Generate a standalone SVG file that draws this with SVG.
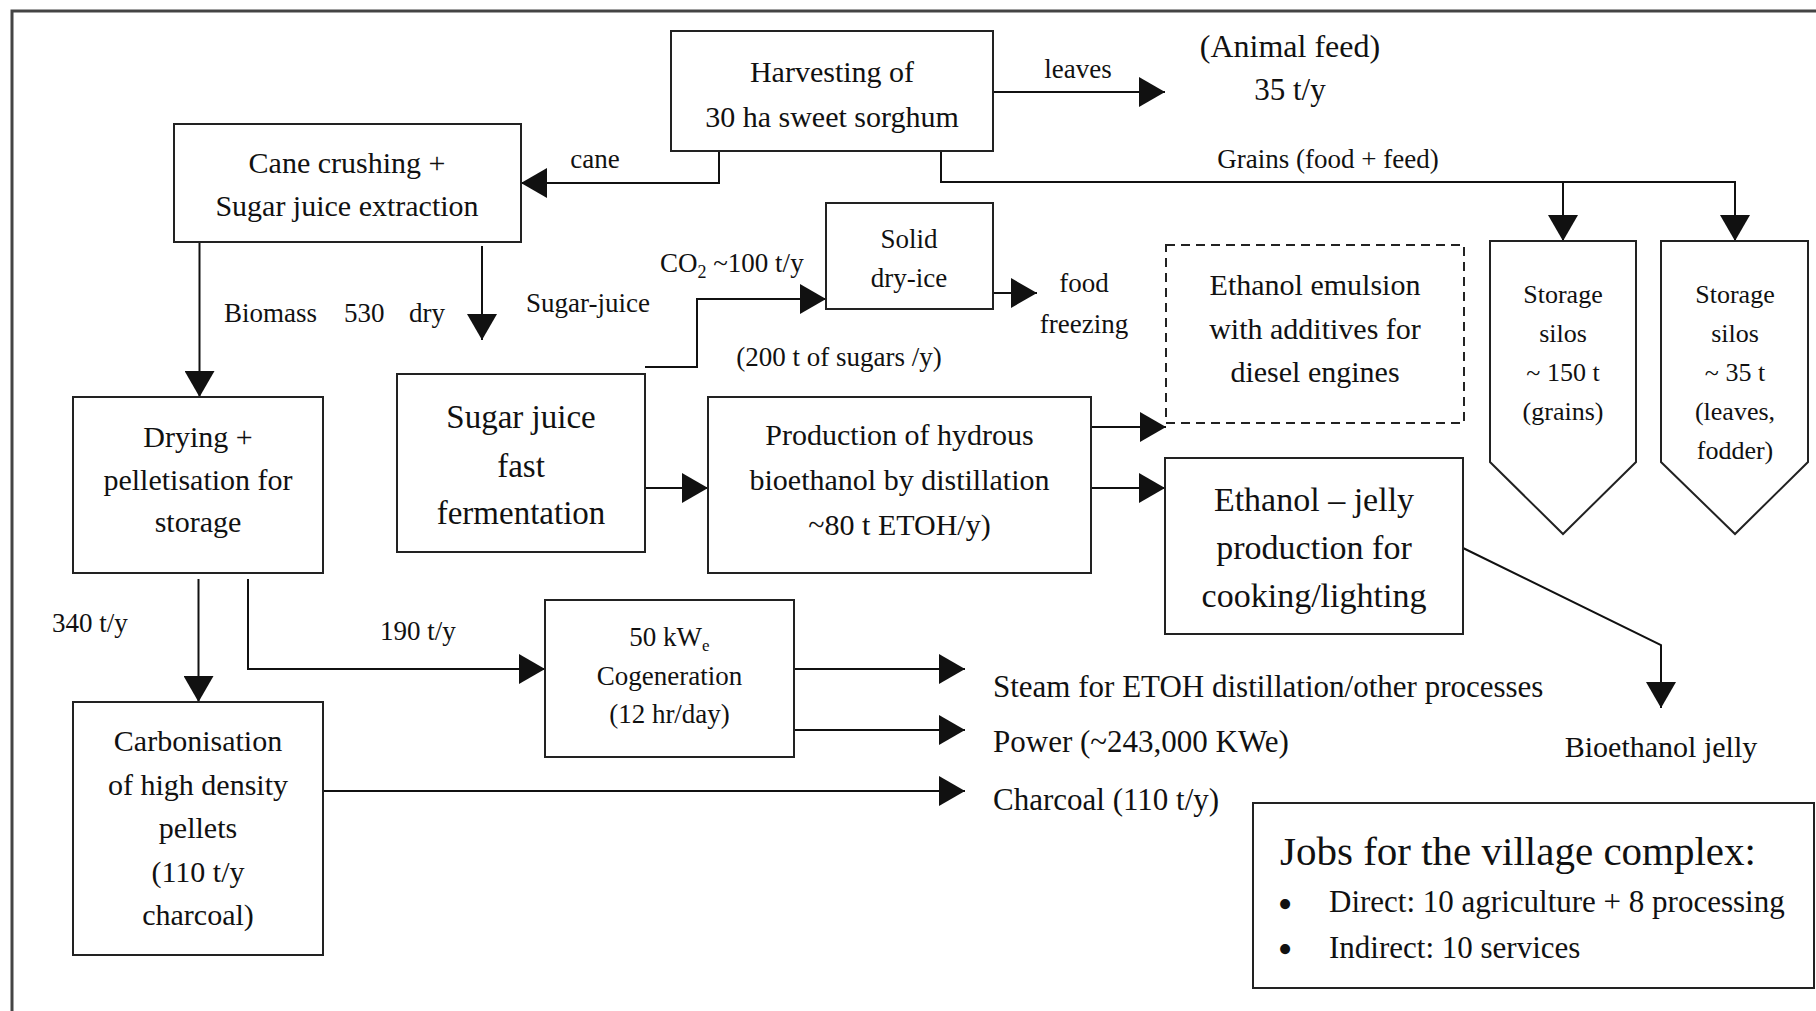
<svg xmlns="http://www.w3.org/2000/svg" width="1816" height="1011" viewBox="0 0 1816 1011">
<style>
text{font-family:"Liberation Serif","Times New Roman",serif;fill:#111;}
.c{text-anchor:middle;}
.box{fill:#fff;stroke:#222;stroke-width:2;}
.dash{fill:#fff;stroke:#222;stroke-width:2;stroke-dasharray:9,6;}
.ln{fill:none;stroke:#111;stroke-width:2;}
.f27{font-size:27px;}
.f30{font-size:30px;}
</style>
<defs>
<marker id="ah" markerUnits="userSpaceOnUse" markerWidth="26" markerHeight="30" refX="26" refY="15" orient="auto">
<path d="M0,0 L26,15 L0,30 Z" fill="#111"/>
</marker>
</defs>
<rect width="1816" height="1011" fill="#fff"/>
<path d="M12,1011 V11 H1816" fill="none" stroke="#444" stroke-width="3"/>

<g id="connectors" class="ln">
<path d="M993,92 H1165" marker-end="url(#ah)"/>
<path d="M719,151 V183 H521" marker-end="url(#ah)"/>
<path d="M941,151 V182 H1735 V241" marker-end="url(#ah)"/>
<path d="M1563,182 V241" marker-end="url(#ah)"/>
<path d="M199.5,242 V397" marker-end="url(#ah)"/>
<path d="M482,246 V340" marker-end="url(#ah)"/>
<path d="M645,367 H697 V299 H826" marker-end="url(#ah)"/>
<path d="M993,293 H1037" marker-end="url(#ah)"/>
<path d="M645,488 H708" marker-end="url(#ah)"/>
<path d="M1091,427 H1166" marker-end="url(#ah)"/>
<path d="M1091,488 H1165" marker-end="url(#ah)"/>
<path d="M1463,548 L1661,645 V708" marker-end="url(#ah)"/>
<path d="M198.5,579 V702" marker-end="url(#ah)"/>
<path d="M248,579 V669 H545" marker-end="url(#ah)"/>
<path d="M794,669 H965" marker-end="url(#ah)"/>
<path d="M794,730 H965" marker-end="url(#ah)"/>
<path d="M323,791 H965" marker-end="url(#ah)"/>
</g>

<g id="labels">
<text class="c f27" x="1078" y="78">leaves</text>
<text class="c f27" x="595" y="168">cane</text>
<text class="c f27" x="1328" y="168">Grains (food + feed)</text>
<text class="f27" y="322"><tspan x="224">Biomass</tspan><tspan x="344">530</tspan><tspan x="409">dry</tspan></text>
<text class="c f27" x="588" y="312">Sugar-juice</text>
<text class="f27" x="660" y="272">CO<tspan font-size="18" dy="6">2</tspan><tspan dy="-6"> ~100 t/y</tspan></text>
<text class="c f27" x="839" y="366">(200 t of sugars /y)</text>
<text class="c f27" x="90" y="632">340 t/y</text>
<text class="c f27" x="418" y="640">190 t/y</text>
</g>

<g id="animal-feed">
<text class="c" x="1290" y="57" font-size="32">(Animal feed)</text>
<text class="c" x="1290" y="100" font-size="31">35 t/y</text>
</g>

<g id="harvesting">
<rect class="box" x="671" y="31" width="322" height="120"/>
<text class="c f30" x="832" y="82">Harvesting of</text>
<text class="c f30" x="832" y="127">30 ha sweet sorghum</text>
</g>

<g id="cane-crushing">
<rect class="box" x="174" y="124" width="347" height="118"/>
<text class="c f30" x="347" y="173">Cane crushing +</text>
<text class="c f30" x="347" y="216">Sugar juice extraction</text>
</g>

<g id="solid-dry-ice">
<rect class="box" x="826" y="203" width="167" height="106"/>
<text class="c f27" x="909" y="248">Solid</text>
<text class="c f27" x="909" y="287">dry-ice</text>
</g>

<g id="food-freezing">
<text class="c f27" x="1084" y="292">food</text>
<text class="c f27" x="1084" y="333">freezing</text>
</g>

<g id="ethanol-emulsion">
<rect class="dash" x="1166" y="245" width="298" height="178"/>
<text class="c f30" x="1315" y="295">Ethanol emulsion</text>
<text class="c f30" x="1315" y="339">with additives for</text>
<text class="c f30" x="1315" y="382">diesel engines</text>
</g>

<g id="silo-grains">
<path class="box" d="M1490,241 H1636 V462 L1563,534 L1490,462 Z"/>
<text class="c" font-size="26" x="1563" y="303">Storage</text>
<text class="c" font-size="26" x="1563" y="342">silos</text>
<text class="c" font-size="26" x="1563" y="381">~ 150 t</text>
<text class="c" font-size="26" x="1563" y="420">(grains)</text>
</g>

<g id="silo-leaves">
<path class="box" d="M1661,241 H1808 V462 L1735,534 L1661,462 Z"/>
<text class="c" font-size="26" x="1735" y="303">Storage</text>
<text class="c" font-size="26" x="1735" y="342">silos</text>
<text class="c" font-size="26" x="1735" y="381">~ 35 t</text>
<text class="c" font-size="26" x="1735" y="420">(leaves,</text>
<text class="c" font-size="26" x="1735" y="459">fodder)</text>
</g>

<g id="drying">
<rect class="box" x="73" y="397" width="250" height="176"/>
<text class="c f30" x="198" y="447">Drying +</text>
<text class="c f30" x="198" y="490">pelletisation for</text>
<text class="c f30" x="198" y="532">storage</text>
</g>

<g id="fermentation">
<rect class="box" x="397" y="374" width="248" height="178"/>
<text class="c" font-size="33" x="521" y="428">Sugar juice</text>
<text class="c" font-size="33" x="521" y="477">fast</text>
<text class="c" font-size="33" x="521" y="524">fermentation</text>
</g>

<g id="distillation">
<rect class="box" x="708" y="397" width="383" height="176"/>
<text class="c f30" x="899.5" y="445">Production of hydrous</text>
<text class="c f30" x="899.5" y="490">bioethanol by distillation</text>
<text class="c f30" x="899.5" y="535">~80 t ETOH/y)</text>
</g>

<g id="ethanol-jelly">
<rect class="box" x="1165" y="458" width="298" height="176"/>
<text class="c" font-size="34" x="1314" y="511">Ethanol – jelly</text>
<text class="c" font-size="34" x="1314" y="559">production for</text>
<text class="c" font-size="34" x="1314" y="607">cooking/lighting</text>
</g>

<g id="bioethanol-jelly">
<text class="c f30" x="1661" y="757">Bioethanol jelly</text>
</g>

<g id="cogeneration">
<rect class="box" x="545" y="600" width="249" height="157"/>
<text class="c f27" x="669.5" y="646">50 kW<tspan font-size="17" dy="5">e</tspan></text>
<text class="c f27" x="669.5" y="685">Cogeneration</text>
<text class="c f27" x="669.5" y="723">(12 hr/day)</text>
</g>

<g id="carbonisation">
<rect class="box" x="73" y="702" width="250" height="253"/>
<text class="c f30" x="198" y="751">Carbonisation</text>
<text class="c f30" x="198" y="795">of high density</text>
<text class="c f30" x="198" y="838">pellets</text>
<text class="c f30" x="198" y="882">(110 t/y</text>
<text class="c f30" x="198" y="925">charcoal)</text>
</g>

<g id="outputs">
<text font-size="31" x="993" y="697">Steam for ETOH distillation/other processes</text>
<text font-size="31" x="993" y="752">Power (~243,000 KWe)</text>
<text font-size="31" x="993" y="810">Charcoal (110 t/y)</text>
</g>

<g id="jobs">
<rect class="box" x="1253" y="803" width="561" height="185"/>
<text font-size="41" x="1280" y="865">Jobs for the village complex:</text>
<text class="c" font-size="42" x="1285" y="918">•</text>
<text font-size="31" x="1329" y="912">Direct: 10 agriculture + 8 processing</text>
<text class="c" font-size="42" x="1285" y="963">•</text>
<text font-size="31" x="1329" y="958">Indirect: 10 services</text>
</g>
</svg>
